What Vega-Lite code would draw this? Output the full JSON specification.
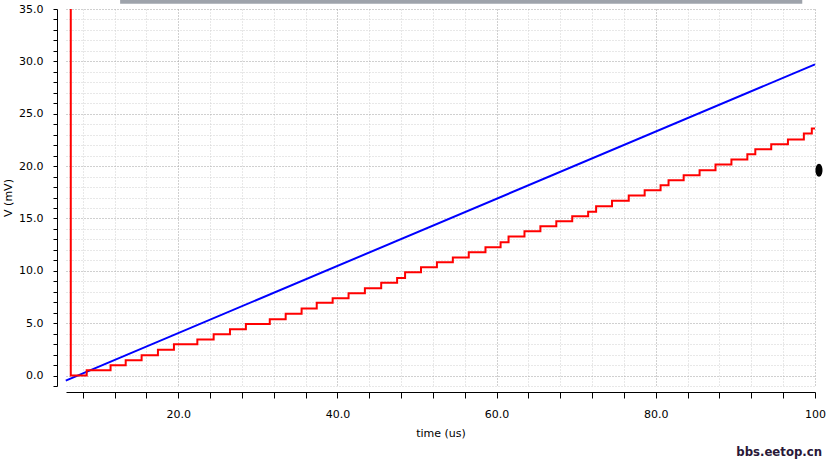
{
  "$schema": "https://vega.github.io/schema/vega-lite/v6.json",
  "width": 749,
  "height": 377,
  "autosize": {"type": "none"},
  "padding": {"left": 66, "top": 9, "right": 15, "bottom": 81},
  "background": "white",
  "config": {"view": {"stroke": null}, "font": "DejaVu Sans"},
  "title": {
    "text": "bbs.eetop.cn",
    "orient": "bottom",
    "anchor": "end",
    "frame": "group",
    "font": "DejaVu Sans Condensed",
    "fontWeight": "bold",
    "fontSize": 13,
    "color": "#2a1838",
    "offset": 8,
    "dx": 7
  },
  "datasets": {
    "blue": [
      {"t": 5.87, "v": -0.48},
      {"t": 100, "v": 29.71}
    ],
    "red": [
      {"t": 6.5, "v": 35},
      {"t": 6.5, "v": 0},
      {"t": 8.5, "v": 0.51},
      {"t": 11.5, "v": 0.98},
      {"t": 13.4, "v": 1.46},
      {"t": 15.4, "v": 1.94},
      {"t": 17.45, "v": 2.45},
      {"t": 19.46, "v": 2.99},
      {"t": 22.4, "v": 3.44},
      {"t": 24.45, "v": 3.94},
      {"t": 26.5, "v": 4.42},
      {"t": 28.5, "v": 4.93},
      {"t": 31.5, "v": 5.37},
      {"t": 33.5, "v": 5.89},
      {"t": 35.5, "v": 6.39},
      {"t": 37.4, "v": 6.94},
      {"t": 39.4, "v": 7.38},
      {"t": 41.4, "v": 7.86},
      {"t": 43.45, "v": 8.33},
      {"t": 45.5, "v": 8.85},
      {"t": 47.5, "v": 9.32},
      {"t": 48.5, "v": 9.86},
      {"t": 50.5, "v": 10.34},
      {"t": 52.5, "v": 10.81},
      {"t": 54.5, "v": 11.26},
      {"t": 56.5, "v": 11.77},
      {"t": 58.6, "v": 12.25},
      {"t": 60.5, "v": 12.72},
      {"t": 61.5, "v": 13.27},
      {"t": 63.5, "v": 13.77},
      {"t": 65.5, "v": 14.25},
      {"t": 67.5, "v": 14.73},
      {"t": 69.5, "v": 15.2},
      {"t": 71.5, "v": 15.65},
      {"t": 72.5, "v": 16.16},
      {"t": 74.5, "v": 16.7},
      {"t": 76.6, "v": 17.18},
      {"t": 78.6, "v": 17.69},
      {"t": 80.6, "v": 18.16},
      {"t": 81.6, "v": 18.64},
      {"t": 83.5, "v": 19.12},
      {"t": 85.5, "v": 19.6},
      {"t": 87.5, "v": 20.14},
      {"t": 89.5, "v": 20.62},
      {"t": 91.5, "v": 21.12},
      {"t": 92.5, "v": 21.6},
      {"t": 94.5, "v": 22.08},
      {"t": 96.6, "v": 22.55},
      {"t": 98.6, "v": 23.1},
      {"t": 99.6, "v": 23.6},
      {"t": 100, "v": 23.6}
    ],
    "marker": [
      {"t": 100.5, "v": 19.6}
    ],
    "bar": [
      {"t": 12.7, "t2": 98.4, "v": 35.5, "v2": 36.0}
    ]
  },
  "encoding": {
    "x": {
      "field": "t",
      "type": "quantitative",
      "scale": {"domain": [5.9, 100], "nice": false, "zero": false},
      "axis": {
        "title": "time (us)",
        "values": [8, 12, 16, 20, 24, 28, 32, 36, 40, 44, 48, 52, 56, 60, 64, 68, 72, 76, 80, 84, 88, 92, 96, 100],
        "labelExpr": "datum.value % 20 === 0 ? (datum.value === 100 ? '100' : format(datum.value, '.1f')) : ''",
        "offset": 6,
        "tickSize": 6,
        "tickColor": "black",
        "domainColor": "black",
        "labelColor": "black",
        "labelFontSize": 11,
        "labelPadding": 10,
        "labelOverlap": false,
        "labelFlush": false,
        "grid": true,
        "gridDash": [1, 2],
        "gridColor": {"condition": {"test": "datum.value % 20 === 0", "value": "#a0a0a0"}, "value": "#d0d0d0"},
        "titleFontSize": 11,
        "titleFontWeight": "normal",
        "titleColor": "black",
        "titlePadding": 8
      }
    },
    "y": {
      "field": "v",
      "type": "quantitative",
      "scale": {"domain": [-1, 35], "nice": false, "zero": false},
      "axis": {
        "title": "V (mV)",
        "values": [-1, 0, 1, 2, 3, 4, 5, 6, 7, 8, 9, 10, 11, 12, 13, 14, 15, 16, 17, 18, 19, 20, 21, 22, 23, 24, 25, 26, 27, 28, 29, 30, 31, 32, 33, 34, 35],
        "labelExpr": "datum.value % 5 === 0 ? format(datum.value, '.1f') : ''",
        "offset": 9,
        "tickSize": 4,
        "tickColor": "black",
        "domainColor": "black",
        "labelColor": "black",
        "labelFontSize": 11,
        "labelPadding": 10,
        "labelOverlap": false,
        "labelFlush": false,
        "grid": true,
        "gridDash": [1, 2],
        "gridColor": {"condition": {"test": "datum.value % 5 === 0", "value": "#a0a0a0"}, "value": "#d0d0d0"},
        "titleFontSize": 11,
        "titleFontWeight": "normal",
        "titleColor": "black",
        "titlePadding": 5
      }
    }
  },
  "layer": [
    {
      "data": {"name": "bar"},
      "mark": {"type": "rect", "color": "#9ea3ab", "clip": false},
      "encoding": {"x2": {"field": "t2"}, "y2": {"field": "v2"}}
    },
    {
      "data": {"name": "blue"},
      "mark": {"type": "line", "color": "#0000ff", "strokeWidth": 2}
    },
    {
      "data": {"name": "red"},
      "mark": {"type": "line", "color": "#ff0000", "strokeWidth": 2, "interpolate": "step-after"},
      "encoding": {"order": {"value": null}}
    },
    {
      "data": {"name": "marker"},
      "mark": {"type": "point", "filled": true, "color": "black", "opacity": 1, "size": 169, "clip": false, "shape": "M0,-1A0.54,1,0,1,1,0,1A0.54,1,0,1,1,0,-1Z"}
    }
  ]
}
